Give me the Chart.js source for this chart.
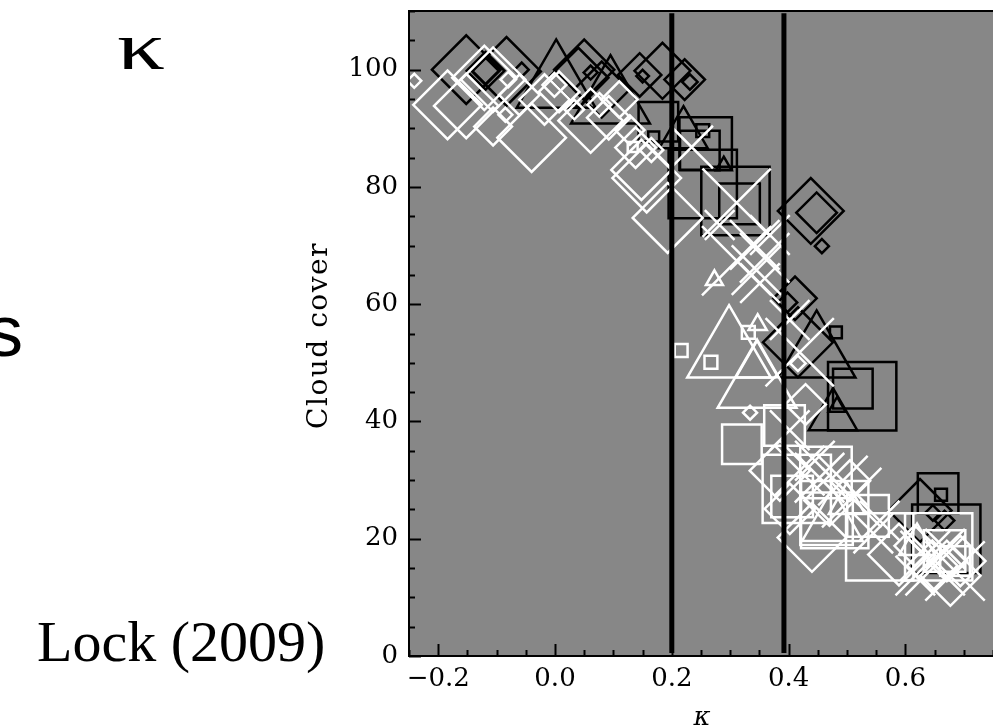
<!DOCTYPE html>
<html>
<head>
<meta charset="utf-8">
<script src="https://cdn.jsdelivr.net/npm/chart.js@4.4.1/dist/chart.umd.min.js"></script>
<style>
  html, body { margin: 0; padding: 0; background: #ffffff; }
  #wrap { position: relative; width: 993px; height: 726px; }
</style>
</head>
<body>
<div id="wrap"><canvas id="c" width="993" height="726"></canvas></div>
<script>
// Axis ticks
const xTicks = [-0.2, 0.0, 0.2, 0.4, 0.6];
const yTicks = [0, 20, 40, 60, 80, 100];
// Kappa thresholds (vertical lines)
const thresholds = [0.2, 0.392];

// Black diamonds: kappa, cloud cover, symbol size
const bdX = [-0.152, -0.083, -0.119, -0.119, -0.057, 0.050, 0.040, 0.080, 0.061, 0.145, 0.150, 0.184, 0.222, 0.231, 0.438, 0.448, 0.457, 0.411, 0.398, 0.416, 0.625, 0.647, 0.667];
const bdY = [100.0, 99.7, 99.8, 99.8, 100.0, 100.0, 98.6, 96.6, 99.5, 99.1, 98.9, 99.8, 98.3, 97.9, 75.9, 75.6, 69.9, 61.0, 60.3, 53.5, 24.8, 24.4, 23.1];
const bdS = [4.9, 4.9, 2.7, 1.9, 1.0, 4.3, 4.3, 4.0, 1.0, 3.1, 0.9, 4.0, 2.9, 1.1, 4.7, 2.9, 1.0, 3.1, 1.4, 5.0, 4.5, 1.1, 1.4];

// Black squares
const bsX = [0.177, 0.258, 0.248, 0.253, 0.309, 0.316, 0.169, 0.253, 0.526, 0.510, 0.481, 0.656, 0.670, 0.661];
const bsY = [91.1, 87.4, 86.2, 80.5, 77.6, 77.1, 88.5, 89.6, 44.3, 45.6, 55.2, 27.7, 20.0, 27.5];
const bsS = [4.0, 5.3, 4.0, 6.9, 6.9, 4.1, 1.1, 1.3, 6.9, 4.0, 1.2, 4.1, 6.9, 1.2];

// Black triangles
const btX = [0.002, 0.095, 0.220, 0.289, 0.448, 0.476, 0.483];
const btY = [97.4, 94.7, 89.0, 83.6, 51.3, 40.9, 42.5];
const btS = [6.5, 6.5, 4.0, 1.3, 6.4, 4.0, 1.4];

// White diamonds
const wdX = [-0.241, -0.184, -0.152, -0.121, -0.106, -0.106, -0.040, -0.080, -0.085, -0.061, -0.018, 0.007, 0.061, 0.092, 0.110, 0.076, 0.138, 0.148, 0.157, 0.193, 0.165, 0.128, 0.033, -0.001, 0.334, 0.429, 0.416, 0.440, 0.589, 0.646, 0.671, 0.677, 0.694, 0.616, 0.505, 0.470, 0.385, 0.402];
const wdY = [98.1, 94.0, 93.8, 98.6, 98.3, 90.3, 88.4, 98.3, 92.3, 95.7, 94.9, 96.2, 91.3, 91.8, 94.9, 94.0, 86.7, 82.9, 81.5, 74.7, 86.3, 89.7, 93.2, 97.4, 41.5, 42.9, 49.9, 20.2, 17.3, 15.4, 16.2, 13.7, 16.2, 18.8, 29.9, 26.5, 31.6, 25.1];
const wdS = [1.0, 4.9, 4.6, 4.6, 4.6, 2.7, 4.9, 1.1, 1.0, 2.9, 3.6, 2.9, 4.6, 3.1, 2.6, 1.7, 2.9, 4.3, 4.9, 5.0, 1.7, 2.1, 1.4, 1.7, 1.0, 2.9, 1.1, 4.9, 4.4, 3.6, 2.9, 4.3, 3.6, 2.9, 2.9, 3.6, 4.3, 3.6];

// White squares
const wsX = [0.133, 0.216, 0.267, 0.331, 0.320, 0.393, 0.414, 0.406, 0.465, 0.464, 0.479, 0.536, 0.556, 0.657, 0.667, 0.685];
const wsY = [86.8, 52.1, 50.1, 55.2, 36.1, 39.3, 28.5, 27.2, 23.4, 31.3, 24.1, 23.9, 18.6, 18.6, 17.9, 16.2];
const wsS = [1.0, 1.3, 1.3, 1.3, 4.0, 4.1, 6.9, 4.2, 5.3, 5.2, 6.8, 4.2, 6.8, 6.8, 4.2, 3.0];

// White triangles
const wtX = [0.298, 0.346, 0.346, 0.347, 0.273, 0.475, 0.500, 0.620];
const wtY = [51.6, 46.2, 49.6, 56.5, 64.1, 22.6, 26.0, 19.0];
const wtS = [6.9, 6.5, 3.5, 1.5, 1.4, 5.0, 3.0, 3.0];

// White crosses
const wxX = [0.311, 0.234, 0.311, 0.345, 0.351, 0.342, 0.359, 0.368, 0.282, 0.419, 0.402, 0.402, 0.419, 0.445, 0.508, 0.493, 0.556, 0.453, 0.545, 0.651, 0.685, 0.634, 0.668, 0.617];
const wxY = [77.3, 86.8, 67.4, 65.8, 63.6, 70.1, 67.9, 71.8, 73.5, 51.8, 57.3, 38.5, 31.6, 33.3, 27.0, 29.9, 23.1, 30.4, 20.9, 15.4, 14.5, 17.1, 18.3, 13.7];
const wxS = [6.9, 4.3, 7.0, 5.0, 4.0, 5.0, 5.0, 4.0, 3.0, 6.9, 4.0, 4.0, 5.0, 4.0, 6.0, 5.0, 4.0, 5.0, 4.0, 6.0, 6.0, 5.0, 4.0, 4.0];

const SYM_PX = 7;          // pixels per unit of symbol size
const PLOT_BG = '#878787';
const SERIF = '"DejaVu Serif", serif';

const pts = (xs, ys) => xs.map((x, i) => ({ x: x, y: ys[i] }));

function markers(xs, ys, ss, style, color) {
  return {
    type: 'scatter',
    data: pts(xs, ys),
    pointStyle: style,
    pointRadius: ss.map(s => s * SYM_PX),
    pointHoverRadius: ss.map(s => s * SYM_PX),
    pointBorderColor: color,
    pointBackgroundColor: 'rgba(0,0,0,0)',
    pointBorderWidth: 2.5,
    pointHoverBorderWidth: 2.5,
    showLine: false
  };
}

function thresholdLine(k) {
  return {
    type: 'scatter',
    data: [{ x: k, y: 0.5 }, { x: k, y: 109.6 }],
    showLine: true,
    borderColor: '#000',
    borderWidth: 5,
    pointRadius: 0,
    pointHoverRadius: 0
  };
}

// Plot background, frame and inward-pointing ticks
const frame = {
  id: 'frame',
  beforeDatasetsDraw(chart) {
    const { ctx, chartArea: a } = chart;
    ctx.save();
    ctx.fillStyle = PLOT_BG;
    ctx.fillRect(a.left, a.top, a.right - a.left, a.bottom - a.top);
    ctx.restore();
  },
  afterDatasetsDraw(chart) {
    const { ctx, chartArea: a, scales } = chart;
    ctx.save();
    ctx.strokeStyle = '#000';
    ctx.lineWidth = 2;
    ctx.beginPath();
    ctx.moveTo(a.right + 2, a.top); ctx.lineTo(a.left, a.top);
    ctx.lineTo(a.left, a.bottom); ctx.lineTo(a.right + 2, a.bottom);
    ctx.stroke();
    // y ticks: major every 20, minor every 5
    for (let v = 0; v <= 110; v += 5) {
      const py = Math.round(scales.y.getPixelForValue(v)) + 0.5;
      const len = (v % 20 === 0) ? 12 : 6;
      ctx.beginPath(); ctx.moveTo(a.left, py); ctx.lineTo(a.left + len, py); ctx.stroke();
    }
    // x ticks: major every 0.2, minor every 0.05
    for (let i = -5; i <= 15; i++) {
      const v = i * 0.05;
      const px = Math.round(scales.x.getPixelForValue(v)) + 0.5;
      const len = (i % 4 === 0) ? 12 : 6;
      ctx.beginPath(); ctx.moveTo(px, a.bottom); ctx.lineTo(px, a.bottom - len); ctx.stroke();
    }
    ctx.restore();
  },
  afterDraw(chart) {
    const { ctx, chartArea: a } = chart;
    ctx.save();
    ctx.fillStyle = '#000';
    // y-axis title
    ctx.save();
    ctx.translate(327, (a.top + a.bottom) / 2 + 2);
    ctx.rotate(-Math.PI / 2);
    ctx.font = '28px ' + SERIF;
    ctx.letterSpacing = '1.5px';
    ctx.textAlign = 'center';
    ctx.textBaseline = 'alphabetic';
    ctx.fillText('Cloud cover', 0, 0);
    ctx.restore();
    // x-axis title
    ctx.font = 'italic 26px ' + SERIF;
    ctx.textAlign = 'center';
    ctx.textBaseline = 'alphabetic';
    ctx.fillText('\u03BA', 702, 725);
    // surrounding slide text
    ctx.save();
    ctx.translate(117, 69);
    ctx.scale(1.4, 1);
    ctx.textAlign = 'left';
    ctx.font = '68px "Liberation Serif", serif';
    ctx.fillText('\u03BA', 0, 0);
    ctx.restore();
    ctx.textAlign = 'right';
    ctx.font = '72px "Liberation Sans", sans-serif';
    ctx.fillText('s', 23, 356);
    ctx.textAlign = 'left';
    ctx.font = '58px "Liberation Serif", serif';
    ctx.fillText('Lock (2009)', 37, 661);
    ctx.restore();
  }
};

const tickFont = { family: SERIF, size: 26 };

new Chart(document.getElementById('c'), {
  type: 'scatter',
  data: {
    datasets: [
      thresholdLine(thresholds[0]),
      thresholdLine(thresholds[1]),
      markers(wxX, wxY, wxS, 'crossRot', '#ffffff'),
      markers(wtX, wtY, wtS, 'triangle', '#ffffff'),
      markers(wsX, wsY, wsS, 'rect', '#ffffff'),
      markers(wdX, wdY, wdS, 'rectRot', '#ffffff'),
      markers(btX, btY, btS, 'triangle', '#000000'),
      markers(bsX, bsY, bsS, 'rect', '#000000'),
      markers(bdX, bdY, bdS, 'rectRot', '#000000')
    ]
  },
  options: {
    responsive: false,
    animation: false,
    events: [],
    layout: { autoPadding: false, padding: { top: 11, right: 0, bottom: 0, left: 0 } },
    plugins: { legend: { display: false }, tooltip: { enabled: false } },
    scales: {
      x: {
        type: 'linear',
        min: -0.25,
        max: 0.75,
        grid: { display: false, drawTicks: false },
        border: { display: false },
        afterBuildTicks: s => { s.ticks = xTicks.map(v => ({ value: v })); },
        afterFit: s => { s.height = 70; s.paddingLeft = 0; s.paddingRight = 0; },
        ticks: {
          font: tickFont,
          color: '#000',
          padding: 8,
          maxRotation: 0,
          autoSkip: false,
          callback: v => (v < -1e-9 ? '\u2212' : '') + Math.abs(v).toFixed(1)
        }
      },
      y: {
        type: 'linear',
        min: 0,
        max: 110,
        grid: { display: false, drawTicks: false },
        border: { display: false },
        afterBuildTicks: s => { s.ticks = yTicks.map(v => ({ value: v })); },
        afterFit: s => { s.width = 409; s.paddingTop = 0; s.paddingBottom = 0; },
        ticks: {
          font: tickFont,
          color: '#000',
          padding: 11,
          autoSkip: false,
          callback: v => String(v)
        }
      }
    }
  },
  plugins: [frame]
});
</script>
</body>
</html>
